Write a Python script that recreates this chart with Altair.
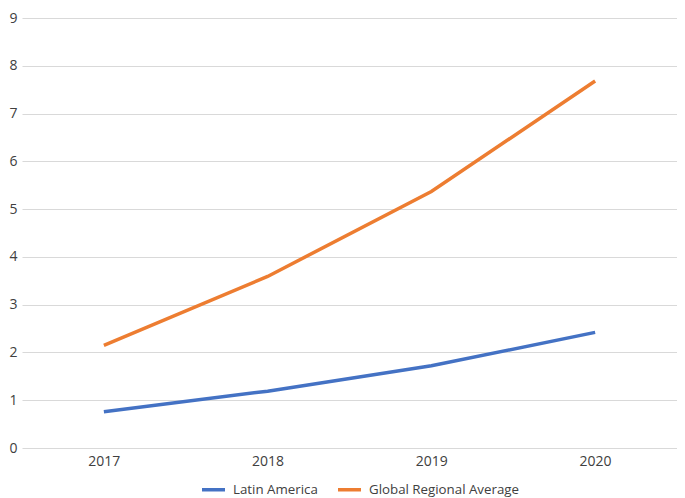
import altair as alt
import pandas as pd

years = ["2017", "2018", "2019", "2020"]
latin_america = [0.76, 1.19, 1.72, 2.42]
global_avg = [2.15, 3.59, 5.37, 7.68]
series_names = ["Latin America", "Global Regional Average"]
colors = ["#4472C4", "#ED7D31"]

rows = []
for y, v in zip(years, latin_america):
    rows.append({"year": y, "value": v, "series": series_names[0]})
for y, v in zip(years, global_avg):
    rows.append({"year": y, "value": v, "series": series_names[1]})
df = pd.DataFrame(rows)

font = "Open Sans"
chart = alt.Chart(df).mark_line(strokeWidth=3.5).encode(
    x=alt.X("year:N", title=None, sort=years,
            scale=alt.Scale(type="point", padding=0.5),
            axis=alt.Axis(labelAngle=0, ticks=False, domain=False, grid=False,
                          labelPadding=6)),
    y=alt.Y("value:Q", title=None,
            scale=alt.Scale(domain=[0, 9], nice=False),
            axis=alt.Axis(values=list(range(10)), ticks=False, domain=False,
                          labelPadding=5, gridColor="#d9d9d9", gridWidth=1.2)),
    color=alt.Color("series:N", sort=series_names,
                    scale=alt.Scale(domain=series_names, range=colors),
                    legend=alt.Legend(title=None, orient="none", direction="horizontal",
                                      legendX=178, legendY=458,
                                      symbolType="stroke", symbolStrokeWidth=3.5,
                                      symbolSize=529, labelFontSize=13.3,
                                      labelOffset=6,
                                      labelColor="#404040", labelFont=font,
                                      columnPadding=13)),
).properties(
    width=655, height=430,
    padding={"left": 0, "top": 3, "right": 0, "bottom": 0},
).configure_view(stroke=None).configure_axis(
    labelFont=font, labelFontSize=14, labelColor="#404040"
)

chart.save("out.html", embed_options={"renderer": "svg", "actions": False})
